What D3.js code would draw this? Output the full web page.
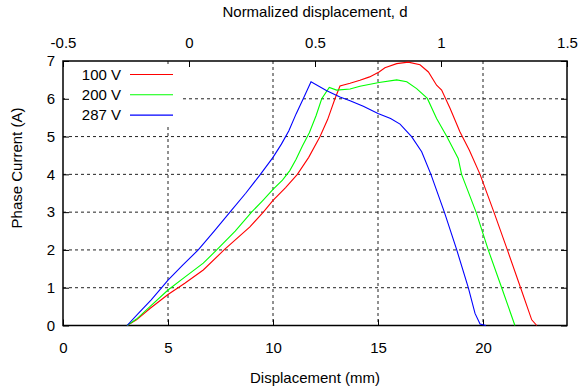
<!DOCTYPE html>
<html>
<head>
<meta charset="utf-8">
<script src="https://cdn.jsdelivr.net/npm/d3@7"></script>
<style>
  body { margin: 0; background: #fff; }
  text { font-family: "Liberation Sans", Arial, sans-serif; }
</style>
</head>
<body>
<svg id="chart" width="581" height="391"></svg>
<script>
// series data: [displacement mm, current A]
var v100 = [[3.05,0],[3.5,0.15],[4.14,0.45],[5,0.82],[5.8,1.12],[6.68,1.47],[7.67,2],[8.9,2.61],[9.54,3],[10,3.31],[10.6,3.65],[11.16,4],[11.7,4.45],[12.24,5],[12.6,5.45],[12.95,6],[13.19,6.34],[13.67,6.41],[14.14,6.49],[14.6,6.58],[15.05,6.71],[15.33,6.82],[15.89,6.93],[16.44,6.97],[17.0,6.9],[17.4,6.71],[17.79,6.36],[18.03,6.23],[18.43,5.75],[18.9,5.13],[19.35,4.64],[19.86,4],[20.52,3],[21.16,2],[21.79,1],[22.32,0.15],[22.56,0]];
var v200 = [[3.05,0],[3.5,0.17],[4.14,0.5],[5,0.94],[5.8,1.28],[6.68,1.65],[7.32,2],[8.2,2.5],[8.98,3],[9.5,3.3],[10,3.6],[10.45,3.85],[10.8,4.1],[11.1,4.4],[11.4,4.75],[11.73,5.1],[12.05,5.55],[12.32,6],[12.68,6.3],[13.03,6.23],[13.67,6.26],[14.14,6.33],[15.05,6.43],[15.89,6.5],[16.37,6.45],[16.84,6.27],[17.35,6.01],[17.79,5.48],[18.27,5.01],[18.82,4.42],[18.98,4],[19.67,3],[20.25,2],[20.89,1],[21.52,0]];
var v287 = [[3.05,0],[3.6,0.33],[4.2,0.68],[4.7,1],[5,1.2],[5.7,1.6],[6.44,2],[7.2,2.5],[7.95,3],[8.7,3.5],[9.4,4],[10,4.45],[10.4,4.8],[10.75,5.15],[11.1,5.6],[11.44,6],[11.81,6.45],[12.56,6.21],[13.19,6.05],[13.67,5.95],[14.3,5.8],[15,5.61],[15.6,5.48],[16.05,5.33],[16.6,5],[17.08,4.6],[17.52,4],[18.16,3],[18.75,2],[19.3,1],[19.62,0.32],[19.86,0.04],[20.14,0]];

var seriesNames = ["100 V", "200 V", "287 V"];
var seriesColors = ["#ff0000", "#00ff00", "#0000ff"];
var xTicks = [0, 5, 10, 15, 20];
var x2Ticks = [-0.5, 0, 0.5, 1, 1.5];
var yTicks = [0, 1, 2, 3, 4, 5, 6, 7];
var xGrid = [5, 10, 15, 20];
var yGrid = [1, 2, 3, 4, 5, 6];

// layout
var margin = { top: 61, right: 14, bottom: 65.5, left: 63 },
  width = 581 - margin.left - margin.right,
  height = 391 - margin.top - margin.bottom;

var x = d3.scaleLinear().domain([0, 24]).range([0, width]);
var x2 = d3.scaleLinear().domain([-0.5, 1.5]).range([0, width]);
var y = d3.scaleLinear().domain([0, 7]).range([height, 0]);

// plain hyphen instead of unicode minus
var fmt = function (d) { return String(d); };

var svg = d3.select("#chart");
var g = svg.append("g")
  .attr("transform", "translate(" + margin.left + "," + margin.top + ")");

// grid
g.selectAll(".vgrid").data(xGrid).enter().append("line")
  .attr("x1", d => x(d)).attr("x2", d => x(d))
  .attr("y1", 0).attr("y2", height)
  .attr("stroke", "#222").attr("stroke-width", 1)
  .attr("stroke-dasharray", "3,3");
g.selectAll(".hgrid").data(yGrid).enter().append("line")
  .attr("x1", 0).attr("x2", width)
  .attr("y1", d => y(d)).attr("y2", d => y(d))
  .attr("stroke", "#222").attr("stroke-width", 1)
  .attr("stroke-dasharray", "3,3");

// legend background hides grid
g.append("rect")
  .attr("x", 2).attr("y", 5)
  .attr("width", 118).attr("height", 59)
  .attr("fill", "#fff");

// axes
function styleAxis(sel) {
  sel.select(".domain").remove();
  sel.selectAll("text").attr("font-size", 15).attr("fill", "#000")
    .style("font-family", "Liberation Sans, Arial, sans-serif");
  sel.selectAll("line").attr("stroke", "#000");
}

g.append("g")
  .attr("transform", "translate(0," + height + ")")
  .call(d3.axisBottom(x).tickValues(xTicks).tickFormat(fmt).tickSize(-6).tickPadding(17))
  .call(styleAxis);

g.append("g")
  .call(d3.axisTop(x2).tickValues(x2Ticks).tickFormat(fmt).tickSize(-6).tickPadding(13))
  .call(styleAxis);

g.append("g")
  .call(d3.axisLeft(y).tickValues(yTicks).tickFormat(fmt).tickSize(-6).tickPadding(8))
  .call(styleAxis);

g.append("g")
  .attr("transform", "translate(" + width + ",0)")
  .call(d3.axisRight(y).tickValues(yTicks).tickSize(-6).tickFormat(""))
  .call(styleAxis);

// border
g.append("rect")
  .attr("width", width).attr("height", height)
  .attr("fill", "none").attr("stroke", "#000").attr("stroke-width", 1.5);

// lines
var line = d3.line()
  .x(function (d) { return x(d[0]); })
  .y(function (d) { return y(d[1]); });

[v100, v200, v287].forEach(function (s, i) {
  g.append("path")
    .datum(s)
    .attr("d", line)
    .attr("fill", "none")
    .attr("stroke", seriesColors[i])
    .attr("stroke-width", 1.1);
});

// legend
seriesNames.forEach(function (name, i) {
  var ly = 13.5 + i * 20.3;
  g.append("text")
    .attr("x", 58).attr("y", ly)
    .attr("dy", "0.35em")
    .attr("text-anchor", "end")
    .attr("font-size", 15)
    .text(name);
  g.append("line")
    .attr("x1", 67).attr("x2", 110)
    .attr("y1", ly).attr("y2", ly)
    .attr("stroke", seriesColors[i]).attr("stroke-width", 1.1);
});

// titles
svg.append("text")
  .attr("x", margin.left + width / 2).attr("y", 17)
  .attr("text-anchor", "middle").attr("font-size", 15)
  .text("Normalized displacement, d");

svg.append("text")
  .attr("x", margin.left + width / 2).attr("y", 383)
  .attr("text-anchor", "middle").attr("font-size", 15)
  .text("Displacement (mm)");

svg.append("text")
  .attr("transform", "translate(22,168) rotate(-90)")
  .attr("text-anchor", "middle").attr("font-size", 15)
  .text("Phase Current (A)");
</script>
</body>
</html>
